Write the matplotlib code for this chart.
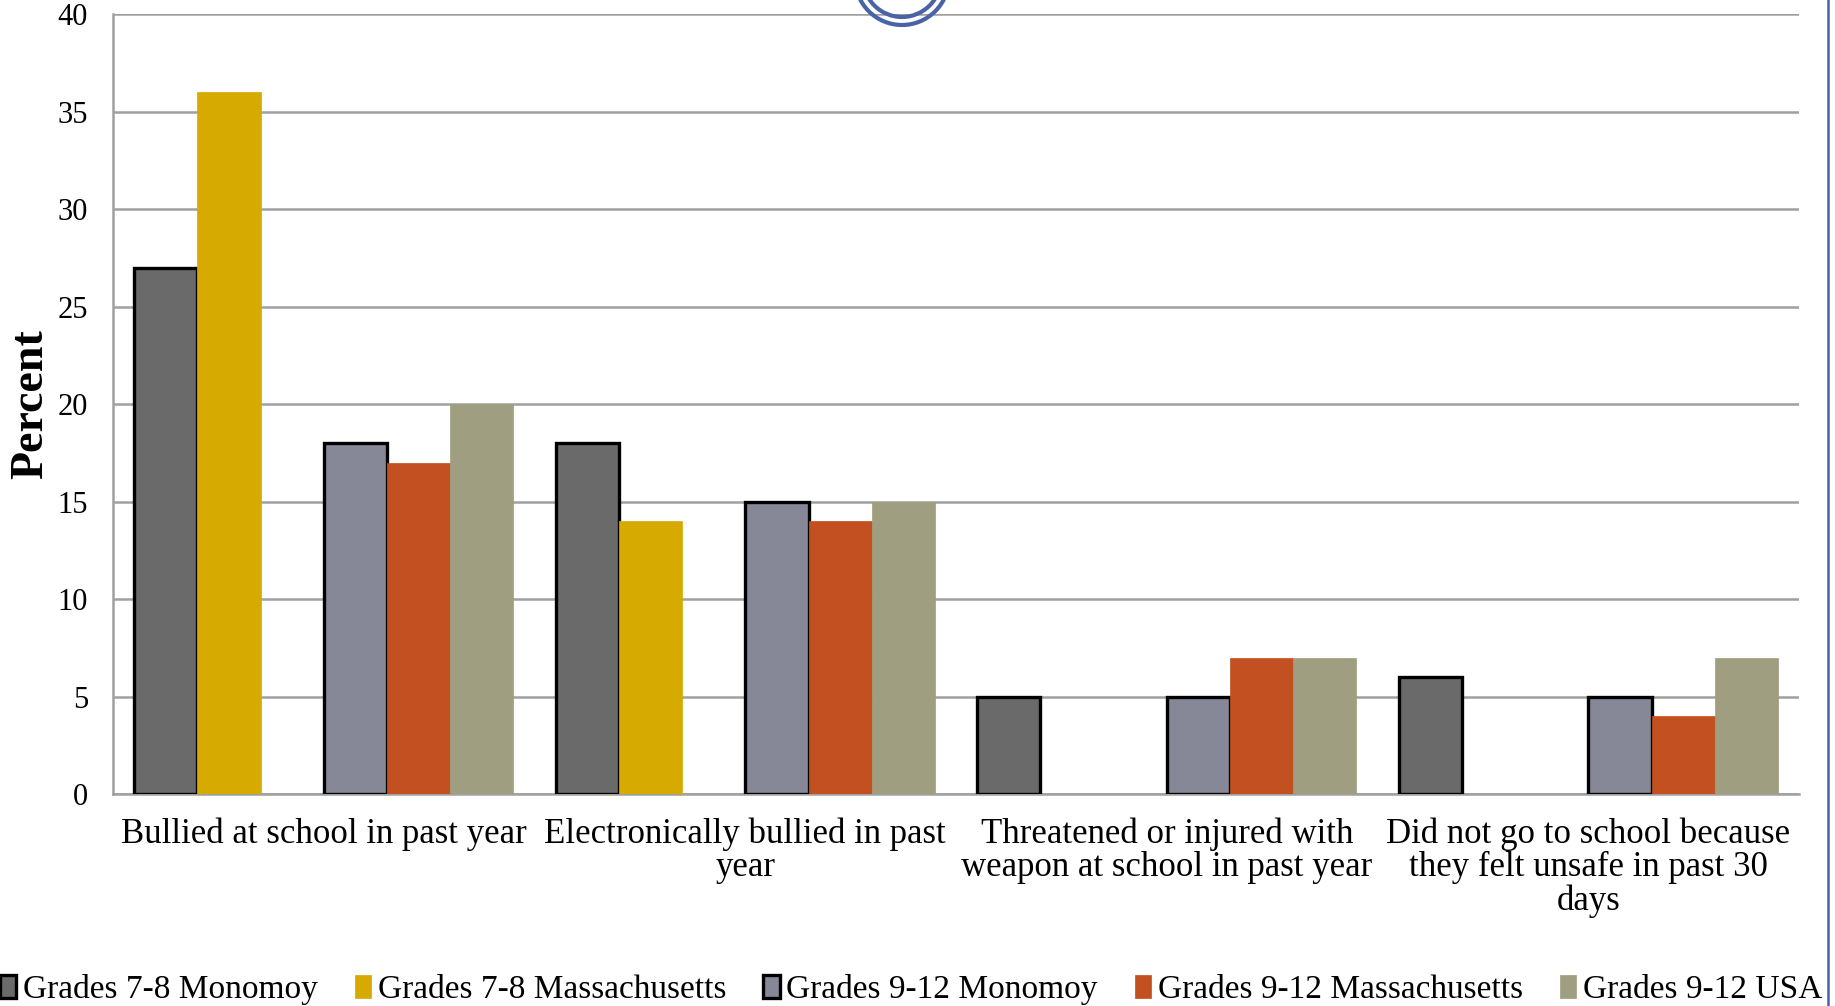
import numpy as np
import matplotlib.pyplot as plt
from matplotlib.patches import Circle

plt.rcParams['font.family'] = ['Liberation Serif', 'DejaVu Serif']

# data
categories = ["Bullied at school in past year",
              "Electronically bullied in past\nyear",
              "Threatened or injured with\nweapon at school in past year",
              "Did not go to school because\nthey felt unsafe in past 30\ndays"]
series_names = ["Grades 7-8 Monomoy", "Grades 7-8 Massachusetts",
                "Grades 9-12 Monomoy", "Grades 9-12 Massachusetts",
                "Grades 9-12 USA"]
mon_78 = [27, 18, 5, 6]
mass_78 = [36, 14, None, None]
mon_912 = [18, 15, 5, 5]
mass_912 = [17, 14, 7, 4]
usa_912 = [20, 15, 7, 7]
yticks = [0, 5, 10, 15, 20, 25, 30, 35, 40]

colors = ["#6a6a6a", "#d6aa00", "#868898", "#c35020", "#9f9e80"]
edged = [True, False, True, False, False]
slots = [0, 1, 3, 4, 5]  # slot 2 is left empty

fig = plt.figure(figsize=(18.35, 10.06), dpi=100)
ax = fig.add_axes([0.0616, 0.2107, 0.9188, 0.7753])

w = 0.15
x = np.arange(len(categories))
handles = []
for vals, name, c, e, s in zip([mon_78, mass_78, mon_912, mass_912, usa_912],
                               series_names, colors, edged, slots):
    xs = [xi + (s - 2.5) * w for xi, v in zip(x, vals) if v is not None]
    hs = [v for v in vals if v is not None]
    h = ax.bar(xs, hs, width=w, color=c,
               edgecolor="black" if e else c,
               linewidth=2.4 if e else 0.5, zorder=3, label=name)
    handles.append(h)

ax.set_xlim(-0.5, len(categories) - 0.5)
ax.set_ylim(0, 40)
ax.set_yticks(yticks)
ax.set_yticklabels([str(t) for t in yticks], fontsize=22)
ax.set_xticks(x)
ax.set_xticklabels(categories, fontsize=25, linespacing=1.0)
ax.tick_params(axis="both", length=0)
ax.tick_params(axis="x", pad=17)
ax.tick_params(axis="y", pad=18)
ax.yaxis.grid(True, color="#a0a0a0", linewidth=1.8, zorder=0)
ax.set_axisbelow(True)
for sp in ["top", "right"]:
    ax.spines[sp].set_visible(False)
ax.spines["left"].set_color("#a0a0a0")
ax.spines["bottom"].set_color("#a0a0a0")
ax.spines["left"].set_linewidth(1.8)
ax.spines["bottom"].set_linewidth(1.8)
ax.set_ylabel("Percent", fontsize=33, fontweight="bold", labelpad=4)

fig.legend(handles=handles, loc="center", bbox_to_anchor=(0.4965, 0.016),
           ncol=5, frameon=False, fontsize=24, handlelength=0.5,
           handleheight=0.7, handletextpad=0.2, columnspacing=1.1,
           borderaxespad=0)

# decoration: blue rings at top and right border line
blue = "#4a63a6"
for r in [0.47, 0.39]:
    fig.patches.append(Circle((9.02, (1006 + 22) / 100), r,
                              transform=fig.dpi_scale_trans,
                              fill=False, edgecolor=blue, linewidth=3,
                              zorder=10))
fig.add_artist(plt.Line2D([1828 / 1835, 1828 / 1835], [0, 1], color=blue,
                          linewidth=1.8, transform=fig.transFigure))

fig.savefig("out.png", dpi=100)
